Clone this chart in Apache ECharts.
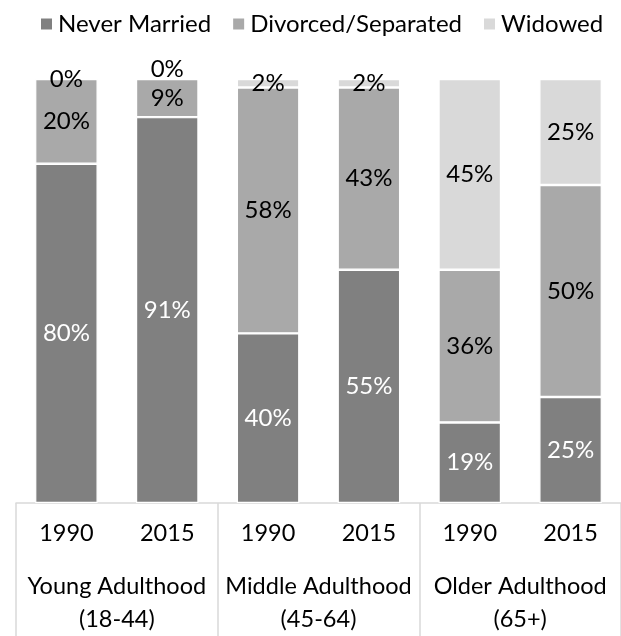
<!DOCTYPE html>
<html>
<head>
<meta charset="utf-8">
<script src="https://cdn.jsdelivr.net/npm/echarts@6/dist/echarts.min.js"></script>
<style>
html,body{margin:0;padding:0;background:#fff;}
#chart{width:621px;height:636px;}
</style>
</head>
<body>
<div id="chart"></div>
<script>
const years = ['1990', '2015', '1990', '2015', '1990', '2015'];
const groups = ['Young Adulthood\n(18-44)', 'Middle Adulthood\n(45-64)', 'Older Adulthood\n(65+)'];
const seriesNames = ['Never Married', 'Divorced/Separated', 'Widowed'];
const neverMarried = [80, 91, 40, 55, 19, 25];
const divorcedSeparated = [20, 9, 58, 43, 36, 50];
const widowed = [0, 0, 2, 2, 45, 25];

const FONT = 'Lato';
const colors = ['#808080', '#a9a9a9', '#d9d9d9'];
const labelColors = ['#ffffff', '#000000', '#000000'];

function mkData(vals, si) {
  return vals.map(function (v, i) {
    const item = { value: v };
    if (si === 2 && i === 1) {
      item.label = { offset: [0, -10] };
    }
    return item;
  });
}

const chart = echarts.init(document.getElementById('chart'), null, { renderer: 'canvas' });
const allVals = [neverMarried, divorcedSeparated, widowed];

chart.setOption({
  animation: false,
  backgroundColor: '#ffffff',
  textStyle: { fontFamily: FONT },
  color: colors,
  legend: {
    top: 12,
    left: 39,
    width: 620,
    padding: 0,
    itemWidth: 13,
    itemHeight: 13,
    itemGap: 20,
    icon: 'rect',
    data: seriesNames,
    textStyle: { fontFamily: FONT, fontSize: 24, color: '#000' }
  },
  grid: { left: 16, top: 79, width: 614, height: 427, containLabel: false },
  xAxis: [
    {
      type: 'category',
      data: years,
      position: 'bottom',
      axisLine: { show: true, lineStyle: { color: '#d9d9d9', width: 1.5 } },
      axisTick: { show: false },
      axisLabel: { fontFamily: FONT, fontSize: 23.5, color: '#000', margin: 18, interval: 0 }
    },
    {
      type: 'category',
      data: groups,
      position: 'bottom',
      axisLine: { show: false },
      axisTick: { show: true, length: 140, lineStyle: { color: '#d9d9d9', width: 1.5 } },
      axisLabel: { fontFamily: FONT, fontSize: 23.5, color: '#000', margin: 67, lineHeight: 33, interval: 0 }
    }
  ],
  yAxis: { type: 'value', min: 0, max: 100, show: false, splitLine: { show: false } },
  series: seriesNames.map(function (name, si) {
    return {
      name: name,
      type: 'bar',
      stack: 'total',
      xAxisIndex: 0,
      barWidth: '62%',
      itemStyle: { color: colors[si], borderColor: '#ffffff', borderWidth: 1.2 },
      label: {
        show: true,
        position: 'inside',
        fontFamily: FONT,
        fontSize: 24,
        color: labelColors[si],
        formatter: function (p) { return p.value + '%'; }
      },
      data: mkData(allVals[si], si)
    };
  })
});
</script>
</body>
</html>
